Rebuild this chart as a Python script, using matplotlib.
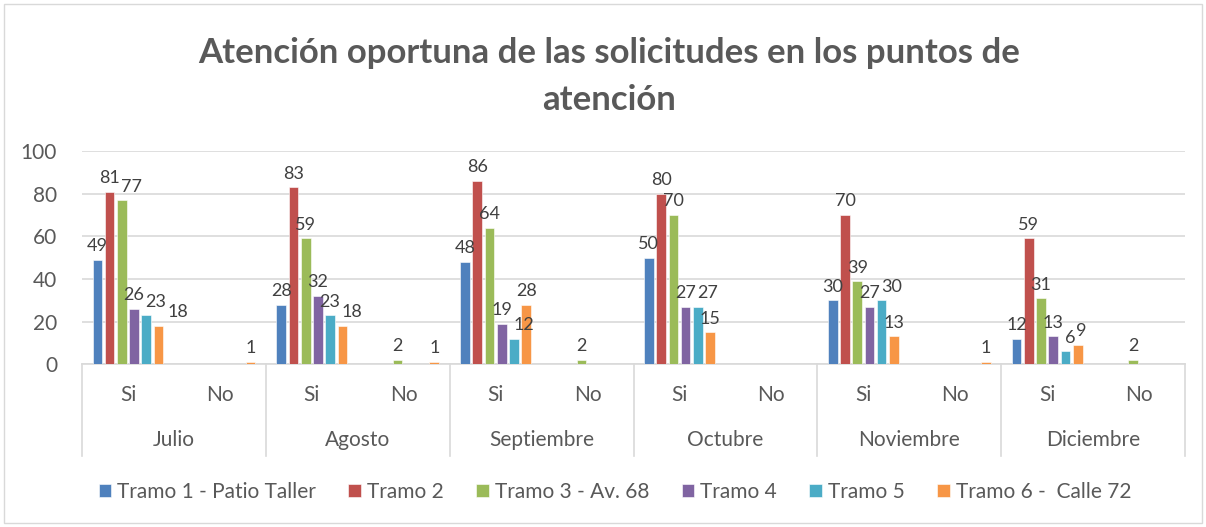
import numpy as np
import matplotlib.pyplot as plt
from matplotlib.patches import Rectangle

# data
months = ['Julio', 'Agosto', 'Septiembre', 'Octubre', 'Noviembre', 'Diciembre']
answers = ['Si', 'No']
series = ['Tramo 1 - Patio Taller', 'Tramo 2', 'Tramo 3 - Av. 68',
          'Tramo 4', 'Tramo 5', 'Tramo 6 -  Calle 72']

# values per series: Si / No alternating for each month (None = blank cell)
tramo1 = [49, None, 28, None, 48, None, 50, None, 30, None, 12, None]
tramo2 = [81, None, 83, None, 86, None, 80, None, 70, None, 59, None]
tramo3 = [77, None, 59, 2, 64, 2, 70, None, 39, None, 31, 2]
tramo4 = [26, None, 32, None, 19, None, 27, None, 27, None, 13, None]
tramo5 = [23, None, 23, None, 12, None, 27, None, 30, None, 6, None]
tramo6 = [18, 1, 18, 1, 28, None, 15, None, 13, 1, 9, None]

colors = ['#4F81BD', '#C0504D', '#9BBB59', '#8064A2', '#4BACC6', '#F79646']
values = [tramo1, tramo2, tramo3, tramo4, tramo5, tramo6]

plt.rcParams['font.family'] = ['Lato', 'DejaVu Sans']
grey = '#595959'

fig = plt.figure(figsize=(12.06, 5.27), dpi=100)
ax = fig.add_axes([0.068, 0.309, 0.9146, 0.4042])

n = len(months) * len(answers)
x = np.arange(n) + 0.5
pitch = 0.133
width = 0.105

labels = {g: [] for g in range(n)}
for i, (name, vals, c) in enumerate(zip(series, values, colors)):
    pos = x + (i - 2.5) * pitch
    h = np.array([np.nan if v is None else v for v in vals], dtype=float)
    ax.bar(pos, np.nan_to_num(h), width=width, color=c, label=name,
           edgecolor='white', linewidth=0.4, zorder=3)
    for g, (px, v) in enumerate(zip(pos, vals)):
        if v is None:
            continue
        t = ax.annotate(str(v), (px, v), xytext=(0, 4), textcoords='offset points',
                        ha='center', va='bottom', fontsize=13, color='#404040',
                        zorder=6)
        labels[g].append(t)

ax.set_xlim(0, n)
ax.set_ylim(0, 100)
ax.set_yticks(range(0, 101, 20))
ax.yaxis.grid(True, color='#D9D9D9', linewidth=1.2, zorder=0)
ax.tick_params(axis='y', length=0, labelsize=15, labelcolor=grey, pad=18)
ax.tick_params(axis='x', length=0, labelsize=15, labelcolor=grey, pad=15)
ax.set_xticks(x)
ax.set_xticklabels(answers * len(months))
for s in ['left', 'right', 'top']:
    ax.spines[s].set_visible(False)
ax.spines['bottom'].set_color('#D9D9D9')
ax.spines['bottom'].set_linewidth(1.2)

tr = ax.get_xaxis_transform()
for k in range(len(months) + 1):
    ax.plot([2 * k, 2 * k], [0, -0.43], transform=tr, color='#D9D9D9',
            linewidth=1.2, clip_on=False)
for k, m in enumerate(months):
    ax.text(2 * k + 1, -0.355, m, transform=tr, ha='center', va='center',
            fontsize=15, color=grey)

fig.text(0.505, 0.855, 'Atención oportuna de las solicitudes en los puntos de\natención',
         ha='center', va='center', fontsize=25, fontweight='bold', color=grey,
         linespacing=1.55)

fig.legend(loc='center', bbox_to_anchor=(0.51, 0.066), ncol=6, frameon=False,
           fontsize=15, handlelength=0.6, handleheight=0.6, handletextpad=0.3,
           columnspacing=1.55, labelcolor=grey)

fig.patches.append(Rectangle((0.003, 0.008), 0.994, 0.985, transform=fig.transFigure,
                             fill=False, edgecolor='#D9D9D9', linewidth=1))

# nudge overlapping data labels to the right, like the spreadsheet does
fig.canvas.draw()
r = fig.canvas.get_renderer()
for g, group in labels.items():
    placed = []
    for t in group:
        bb = t.get_window_extent(r)
        shift = 0
        moved_any = True
        while moved_any:
            moved_any = False
            for pb in placed:
                if bb.translated(shift, 0).overlaps(pb):
                    shift = pb.x1 + 1 - bb.x0
                    moved_any = True
        if shift:
            t.set_position((shift * 72 / fig.dpi, 4))
        placed.append(bb.translated(shift, 0))

fig.savefig('out.png', dpi=100)
